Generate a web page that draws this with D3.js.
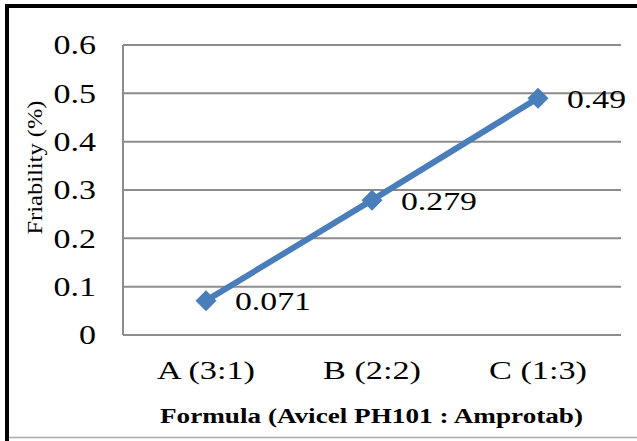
<!DOCTYPE html>
<html><head><meta charset="utf-8">
<script src="https://cdn.jsdelivr.net/npm/d3@7"></script>
<style>body{margin:0;background:#fff}svg{display:block}</style>
</head><body><svg id="c" width="637" height="441"></svg>
<script>
const categories = ["A (3:1)", "B (2:2)", "C (1:3)"];
const friability = [0.071, 0.279, 0.49];
const labels = ["0.071", "0.279", "0.49"];
const yTicks = [0, 0.1, 0.2, 0.3, 0.4, 0.5, 0.6];
const xTitle = "Formula (Avicel PH101 : Amprotab)";
const yTitle = "Friability (%)";

const svg = d3.select("#c");
const m = {l:123, r:621, t:45, b:335};
const x = d3.scaleBand().domain(categories).range([m.l, m.r]);
const y = d3.scaleLinear().domain([0, 0.6]).range([m.b, m.t]);
const serif = "'Liberation Serif','Times New Roman',serif";

// frame
svg.append("line").attr("x1",7).attr("x2",7).attr("y1",4).attr("y2",441).attr("stroke","#000").attr("stroke-width",4);
svg.append("line").attr("x1",5).attr("x2",637).attr("y1",6).attr("y2",6).attr("stroke","#000").attr("stroke-width",4);
svg.append("line").attr("x1",9).attr("x2",637).attr("y1",437.5).attr("y2",437.5).attr("stroke","#aaa").attr("stroke-width",1.5);

// gridlines
svg.append("g").selectAll("line").data(yTicks).join("line")
  .attr("x1",m.l).attr("x2",m.r).attr("y1",d=>y(d)).attr("y2",d=>y(d))
  .attr("stroke","#8c8c8c").attr("stroke-width",2);
svg.append("line").attr("x1",m.l).attr("x2",m.l).attr("y1",m.t).attr("y2",m.b)
  .attr("stroke","#8c8c8c").attr("stroke-width",2);

function stretched(sel, sx) {
  sel.attr("transform", function(){
    const tx = +this.getAttribute("data-x"), ty = +this.getAttribute("data-y");
    return `translate(${tx},${ty}) scale(${sx},1)`;
  });
}

// y tick labels
svg.append("g").selectAll("text").data(yTicks).join("text")
  .attr("data-x",96).attr("data-y",d=>y(d)).attr("dy","0.35em").attr("text-anchor","end")
  .attr("font-family",serif).attr("font-size",27).attr("fill","#000")
  .text(d=>d3.format("")(d)).call(stretched, 1.26);

// x tick labels
svg.append("g").selectAll("text").data(categories).join("text")
  .attr("data-x",d=>x(d)+x.bandwidth()/2).attr("data-y",379).attr("text-anchor","middle")
  .attr("font-family",serif).attr("font-size",25).attr("fill","#000").text(d=>d).call(stretched, 1.37);

// titles
svg.append("text").attr("x",371.5).attr("y",423).attr("text-anchor","middle")
  .attr("textLength",423).attr("lengthAdjust","spacingAndGlyphs")
  .attr("font-family",serif).attr("font-size",20).attr("font-weight","bold").attr("fill","#000").text(xTitle);
svg.append("text").attr("transform","translate(42,167.5) rotate(-90)").attr("text-anchor","middle")
  .attr("textLength",134).attr("lengthAdjust","spacingAndGlyphs")
  .attr("font-family",serif).attr("font-size",21).attr("fill","#000").text(yTitle);

// line
const pts = categories.map((c,i)=>[x(c)+x.bandwidth()/2, y(friability[i])]);
svg.append("path").attr("d",d3.line()(pts)).attr("fill","none").attr("stroke","#4a7ebb").attr("stroke-width",6);
svg.append("g").selectAll("path").data(pts).join("path")
  .attr("transform",d=>`translate(${d[0]},${d[1]})`)
  .attr("d",d3.symbol(d3.symbolDiamond2,280)()).attr("fill","#4a7ebb");

// data labels
svg.append("g").selectAll("text").data(pts).join("text")
  .attr("data-x",d=>d[0]+29).attr("data-y",d=>d[1]+1).attr("dy","0.35em")
  .attr("font-family",serif).attr("font-size",25).attr("fill","#000").text((d,i)=>labels[i]).call(stretched, 1.35);
</script></body></html>
